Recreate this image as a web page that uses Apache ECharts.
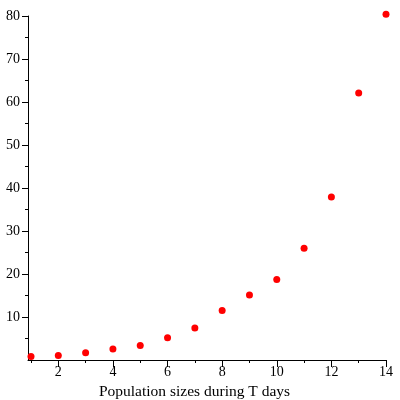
<!DOCTYPE html>
<html>
<head>
<meta charset="utf-8">
<script src="https://cdn.jsdelivr.net/npm/echarts@6/dist/echarts.min.js"></script>
<style>
  html, body { margin: 0; padding: 0; background: #fff; }
  #main { width: 400px; height: 400px; }
</style>
</head>
<body>
<div id="main"></div>
<script>
// data
var days = [1, 2, 3, 4, 5, 6, 7, 8, 9, 10, 11, 12, 13, 14];
var sizes = [0.84, 1.07, 1.70, 2.56, 3.39, 5.18, 7.43, 11.5, 15.1, 18.7, 26.0, 37.9, 62.1, 80.4];

// tick marks
var xMajorTicks = [2, 4, 6, 8, 10, 12, 14];
var xMinorTicks = [1, 3, 5, 7, 9, 11, 13];
var yMajorTicks = [10, 20, 30, 40, 50, 60, 70, 80];
var yMinorTicks = [5, 15, 25, 35, 45, 55, 65, 75];

var xName = 'Population sizes during T days';

var points = days.map(function (d, i) { return [d, sizes[i]]; });

var myChart = echarts.init(document.getElementById('main'));

var font = 'Liberation Serif';

option = {
    backgroundColor: '#fff',
    animation: false,
    grid: {
        left: 28,
        right: 14,
        top: 16,
        bottom: 40,
        containLabel: false,
        outerBoundsMode: 'none'
    },
    xAxis: [
        {
            type: 'value',
            min: 0.89,
            max: 14,
            name: xName,
            nameLocation: 'middle',
            nameGap: 21,
            nameTextStyle: {
                color: '#000',
                fontFamily: font,
                fontSize: 15.5,
                padding: [0, 25, 0, 0]
            },
            axisLine: {show: true, lineStyle: {color: '#000', width: 1}},
            axisTick: {show: true, length: 7, customValues: xMajorTicks, lineStyle: {color: '#000'}},
            axisLabel: {
                customValues: xMajorTicks,
                color: '#000',
                fontFamily: font,
                fontSize: 14,
                margin: 5
            },
            splitLine: {show: false}
        },
        {
            type: 'value',
            min: 0.89,
            max: 14,
            position: 'bottom',
            axisLine: {show: false},
            axisTick: {show: true, length: 3, customValues: xMinorTicks, lineStyle: {color: '#000'}},
            axisLabel: {show: false},
            splitLine: {show: false}
        }
    ],
    yAxis: [
        {
            type: 'value',
            min: 0,
            max: 80,
            axisLine: {show: true, lineStyle: {color: '#000', width: 1}},
            axisTick: {show: true, length: 6, customValues: yMajorTicks, lineStyle: {color: '#000'}},
            axisLabel: {
                customValues: yMajorTicks,
                color: '#000',
                fontFamily: font,
                fontSize: 14,
                margin: 8
            },
            splitLine: {show: false}
        },
        {
            type: 'value',
            min: 0,
            max: 80,
            position: 'left',
            axisLine: {show: false},
            axisTick: {show: true, length: 3, customValues: yMinorTicks, lineStyle: {color: '#000'}},
            axisLabel: {show: false},
            splitLine: {show: false}
        }
    ],
    series: [
        {
            name: 'population',
            type: 'scatter',
            xAxisIndex: 0,
            yAxisIndex: 0,
            clip: false,
            symbol: 'circle',
            symbolSize: 7,
            itemStyle: {color: '#ff0000', opacity: 1},
            data: points
        }
    ]
};

myChart.setOption(option);
</script>
</body>
</html>
